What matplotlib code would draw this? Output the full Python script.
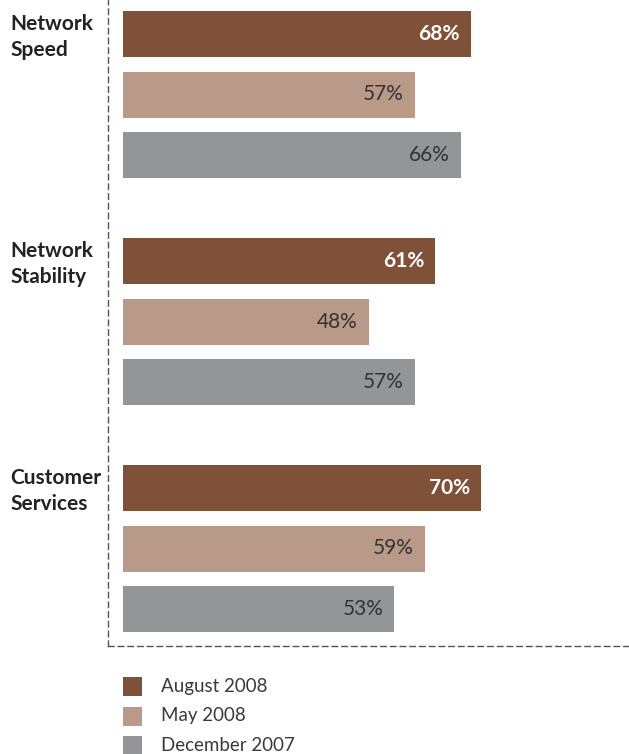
import matplotlib
matplotlib.use("Agg")
import matplotlib.pyplot as plt
from matplotlib.patches import Rectangle

# ── Data ──────────────────────────────────────────────────────────────────────
categories = ["Network\nSpeed", "Network\nStability", "Customer\nServices"]
periods = ["August 2008", "May 2008", "December 2007"]
aug_2008 = [68, 61, 70]
may_2008 = [57, 48, 59]
dec_2007 = [66, 57, 53]

colors = ["#7F5139", "#B99A88", "#939598"]
text_colors = ["white", "#333333", "#333333"]
text_weights = ["bold", "normal", "normal"]

W, H = 629, 754
plt.rcParams["font.family"] = ["Lato", "DejaVu Sans"]

fig = plt.figure(figsize=(W / 100, H / 100), dpi=100)
# axes: left dashed line at x=108, bottom dashed line at y=646
ax = fig.add_axes([108 / W, 1 - 646 / H, (W - 108) / W, 646 / H])

px_per_pct = 5.118
ax.set_xlim(-15 / px_per_pct, (W - 123) / px_per_pct)

group_gap = 227 / 60.5
series = [aug_2008, may_2008, dec_2007]
for i, vals in enumerate(series):
    ys = [g * group_gap + i for g in range(len(categories))]
    ax.barh(ys, vals, height=46 / 60.5, color=colors[i], left=0)
    for y, v in zip(ys, vals):
        ax.text(v - 11 / px_per_pct, y, f"{v}%", ha="right", va="center",
                color=text_colors[i], fontsize=15, fontweight=text_weights[i])

last = (len(categories) - 1) * group_gap + 2
ax.set_ylim(last + 37 / 60.5, -34 / 60.5)

for s in ["top", "right"]:
    ax.spines[s].set_visible(False)
for s in ["left", "bottom"]:
    ax.spines[s].set_linestyle((0, (4, 3)))
    ax.spines[s].set_color("#555555")
    ax.spines[s].set_linewidth(1)
ax.set_xticks([])
ax.set_yticks([])

# category labels to the left of the axis
for g, cat in enumerate(categories):
    y_px = 37 + g * 227
    fig.text(10 / W, 1 - y_px / H, cat, ha="left", va="center",
             fontsize=15, fontweight="bold", color="#222222", linespacing=1.35)

# legend below the chart
for i, (lab, c) in enumerate(zip(periods, colors)):
    top = 677 + i * 29.5
    fig.add_artist(Rectangle((123 / W, 1 - (top + 19) / H), 19 / W, 19 / H,
                             transform=fig.transFigure, color=c, lw=0))
    fig.text(161 / W, 1 - (top + 9.5) / H, lab, ha="left", va="center",
             fontsize=13.5, color="#3a3a3a")

fig.savefig("out.png", dpi=100)
